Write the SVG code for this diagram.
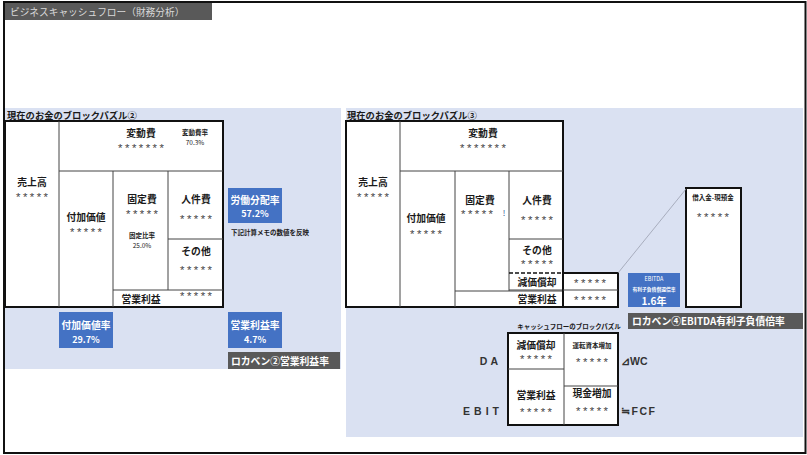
<svg xmlns="http://www.w3.org/2000/svg" width="807" height="455" viewBox="0 0 807 455">
<style>
text{font-family:"Noto Sans CJK JP","Noto Sans",sans-serif;fill:#1a1a1a}
.b{font-weight:bold}
.c{text-anchor:middle;dominant-baseline:central}
.l{dominant-baseline:central}
.lab{font-size:9.8px;font-weight:bold}
.ast{font-family:"Liberation Mono",monospace;font-size:11.5px;letter-spacing:0px;fill:#444}
.sm{font-size:6.5px;font-weight:bold}
.w{fill:#fff}
.panel{fill:#dae1f2}
.thick{fill:#fff;stroke:#111;stroke-width:2}
.thin{stroke:#444;stroke-width:1;fill:none}
.blue{fill:#4472c4}
.dark{fill:#595959}
.en{font-family:"Liberation Sans",Arial,sans-serif;font-weight:bold;font-size:10.5px;fill:#333}
</style>
<rect x="0" y="0" width="807" height="455" fill="#fff"/>
<rect x="4" y="2" width="801.5" height="451" fill="none" stroke="#111" stroke-width="2"/>
<g id="title">
<rect x="5" y="3" width="207" height="17" class="dark"/>
<text x="10" y="12" class="l" font-size="9.7" style="fill:#d9d9d9">ビジネスキャッシュフロー（財務分析）</text>
</g>
<rect x="5" y="108" width="336" height="261" class="panel"/>
<rect x="346" y="108" width="457" height="329" class="panel"/>

<g id="puzzle2">
<text x="7" y="115" class="l b" font-size="9.3">現在のお金のブロックパズル②</text>
<rect x="5" y="121" width="218" height="186" class="thick"/>
<path class="thin" d="M59 121V307M59 171H223M113 171V307M168 171V290M168 239H223M113 290H223"/>
<text x="32" y="182" class="c lab">売上高</text><text x="32" y="195" dy="2.5" class="c ast">*****</text>
<text x="141" y="133" class="c lab">変動費</text><text x="141" y="146" dy="2.5" class="c ast">*******</text>
<text x="195" y="132" class="c sm">変動費率</text><text x="195" y="142" class="c" font-size="6.5">70.3%</text>
<text x="86" y="217" class="c lab">付加価値</text><text x="86" y="230" dy="2.5" class="c ast">*****</text>
<text x="142" y="199" class="c lab">固定費</text><text x="142" y="212" dy="2.5" class="c ast">*****</text>
<text x="142" y="235" class="c sm">固定比率</text><text x="142" y="245" class="c" font-size="6.5">25.0%</text>
<text x="196" y="199" class="c lab">人件費</text><text x="196" y="217" dy="2.5" class="c ast">*****</text>
<text x="196" y="251" class="c lab">その他</text><text x="196" y="268" dy="2.5" class="c ast">*****</text>
<text x="141" y="299" class="c lab">営業利益</text><text x="196" y="294" dy="2.5" class="c ast">*****</text>
</g>
<g id="rodo">
<rect x="228" y="188" width="54" height="35" class="blue"/>
<text x="255" y="200" class="c lab w">労働分配率</text><text x="255" y="213" class="c b w" font-size="9">57.2%</text>
<text x="231" y="232" class="l sm">下記計算メモの数値を反映</text>
</g>
<g id="fuka-ritsu">
<rect x="59" y="312" width="54" height="36" class="blue"/>
<text x="86" y="325" class="c lab w">付加価値率</text><text x="86" y="339" class="c b w" font-size="9">29.7%</text>
</g>
<g id="eigyo-ritsu">
<rect x="228" y="312" width="54" height="36" class="blue"/>
<text x="255" y="325" class="c lab w">営業利益率</text><text x="255" y="339" class="c b w" font-size="9">4.7%</text>
</g>
<g id="lokaben2">
<rect x="228" y="352" width="112" height="17" class="dark"/>
<text x="231" y="361" class="l lab w">ロカベン②営業利益率</text>
</g>

<g id="puzzle3">
<text x="347" y="115" class="l b" font-size="9.3">現在のお金のブロックパズル③</text>
<rect x="346" y="121" width="217" height="186" class="thick"/>
<path class="thin" d="M400 121V307M400 171H563M455 171V307M509 171V291M509 239H563M455 291H563M509 290H563"/>
<path d="M509 273H563" stroke="#111" stroke-width="1.5" stroke-dasharray="4 2"/>
<text x="373" y="182" class="c lab">売上高</text><text x="373" y="195" dy="2.5" class="c ast">*****</text>
<text x="483" y="133" class="c lab">変動費</text><text x="483" y="146" dy="2.5" class="c ast">*******</text>
<text x="426" y="218" class="c lab">付加価値</text><text x="426" y="232" dy="2.5" class="c ast">*****</text>
<text x="480" y="200" class="c lab">固定費</text><text x="477" y="212" dy="2.5" class="c ast">*****</text>
<text x="504" y="212" class="c" font-size="8" style="fill:#2f4f8f">!</text>
<text x="537" y="200" class="c lab">人件費</text><text x="537" y="218" dy="2.5" class="c ast">*****</text>
<text x="537" y="250" class="c lab">その他</text><text x="537" y="262" dy="2.5" class="c ast">*****</text>
<text x="537" y="282" class="c lab">減価償却</text>
<text x="537" y="299" class="c lab">営業利益</text>
</g>
<g id="da-op">
<rect x="563" y="273" width="55" height="34" class="thick"/>
<path class="thin" d="M563 290H618"/>
<text x="590" y="281" dy="2.5" class="c ast">*****</text><text x="590" y="298" dy="2.5" class="c ast">*****</text>
</g>
<g id="debt">
<rect x="686" y="188" width="55" height="119" class="thick"/>
<text x="713" y="197" class="c sm">借入金-現預金</text>
<text x="713" y="215" dy="2.5" class="c ast">*****</text>
</g>
<g id="ebitda">
<rect x="628" y="273" width="52" height="34" class="blue"/>
<text x="654" y="279" class="c w" font-size="5.5">EBITDA</text>
<text x="654" y="288" class="c w b" font-size="4.8">有利子負債償還倍率</text>
<text x="654" y="300" class="c w b" font-size="10">1.6年</text>
</g>
<g id="lokaben4">
<rect x="628" y="313" width="175" height="16" class="dark"/>
<text x="632" y="321" class="l lab w">ロカベン④EBITDA有利子負債倍率</text>
</g>

<g id="cashflow">
<text x="569" y="326" class="c sm">キャッシュフローのブロックパズル</text>
<rect x="508" y="333" width="110" height="92" class="thick"/>
<path class="thin" d="M564 333V425M508 369H564M564 386H618"/>
<text x="536" y="345" class="c lab">減価償却</text><text x="536" y="357" dy="2.5" class="c ast">*****</text>
<text x="592" y="345" class="c sm">運転資本増加</text><text x="592" y="360" dy="2.5" class="c ast">*****</text>
<text x="536" y="395" class="c lab">営業利益</text><text x="536" y="410" dy="2.5" class="c ast">*****</text>
<text x="592" y="393" class="c lab">現金増加</text><text x="592" y="409" dy="2.5" class="c ast">*****</text>
<text x="501" y="361" class="l en" text-anchor="end" letter-spacing="3">DA</text>
<text x="503" y="411" class="l en" text-anchor="end" letter-spacing="4">EBIT</text>
<text x="621" y="361" class="l en">⊿WC</text>
<text x="621" y="411" class="l en" letter-spacing="1.5">≒FCF</text>
</g>

<g id="connectors">
<line x1="618" y1="273" x2="686" y2="189" stroke="#9aa0b0" stroke-width="0.8"/>
</g>
</svg>
